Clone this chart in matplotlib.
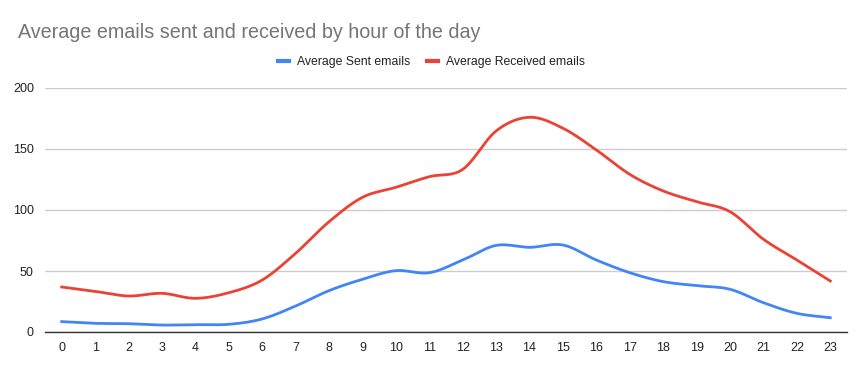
import numpy as np
import matplotlib
matplotlib.use("Agg")
import matplotlib.pyplot as plt

plt.rcParams['font.family'] = ['Liberation Sans', 'DejaVu Sans']

hours = list(range(24))
sent = [8.5, 7.1, 6.8, 5.7, 6.0, 6.3, 10.7, 21.3, 33.9, 43.2, 50.3, 48.6,
        59.0, 71.0, 69.4, 71.3, 59.0, 48.6, 41.3, 38.0, 35.0, 24.0, 15.3, 11.7]
received = [36.9, 33.3, 29.5, 31.7, 27.6, 32.2, 42.6, 64.5, 90.4, 110.4, 118.6, 127.3,
            133.3, 164.8, 176.0, 167.0, 149.2, 129.2, 115.6, 106.8, 98.6, 76.0, 59.0, 41.8]
series_names = ['Average Sent emails', 'Average Received emails']
colors = ['#4285f4', '#ea4335']
yticks = [0, 50, 100, 150, 200]


def smooth(x, y, n=20):
    # catmull-rom spline through the points, like the sheets "smooth" line
    x = np.asarray(x, float)
    y = np.asarray(y, float)
    px = np.concatenate([[2 * x[0] - x[1]], x, [2 * x[-1] - x[-2]]])
    py = np.concatenate([[2 * y[0] - y[1]], y, [2 * y[-1] - y[-2]]])
    xs, ys = [], []
    t = np.linspace(0, 1, n, endpoint=False)
    for i in range(1, len(px) - 2):
        for p, out in ((px, xs), (py, ys)):
            p0, p1, p2, p3 = p[i - 1], p[i], p[i + 1], p[i + 2]
            out.extend(0.5 * (2 * p1 + (-p0 + p2) * t
                              + (2 * p0 - 5 * p1 + 4 * p2 - p3) * t ** 2
                              + (-p0 + 3 * p1 - 3 * p2 + p3) * t ** 3))
    xs.append(x[-1])
    ys.append(y[-1])
    return np.array(xs), np.array(ys)


fig = plt.figure(figsize=(8.65, 3.71), dpi=100)
ax = fig.add_axes([45 / 865, 39 / 371, 802 / 865, 244 / 371])

for vals, name, c in zip([sent, received], series_names, colors):
    sx, sy = smooth(hours, vals)
    ax.plot(sx, sy, color=c, lw=2, label=name)

ax.set_xlim(-0.5, 23.5)
ax.set_ylim(0, 200)
ax.set_yticks(yticks)
ax.set_xticks(hours)
ax.tick_params(length=0, labelsize=9, colors='#222222')
ax.tick_params(axis='y', pad=8)
ax.tick_params(axis='x', pad=7)
ax.grid(axis='y', color='#cccccc', lw=1)
ax.set_axisbelow(True)
for s in ['top', 'right', 'left']:
    ax.spines[s].set_visible(False)
ax.spines['bottom'].set_color('#333333')
ax.spines['bottom'].set_linewidth(1)
ax.spines['bottom'].set_zorder(3)

fig.text(18 / 865, 1 - 32 / 371, 'Average emails sent and received by hour of the day',
         fontsize=14.2, color='#757575', va='center', ha='left')
leg = fig.legend(loc='center', bbox_to_anchor=(431.5 / 865, 1 - 62 / 371), ncol=2,
                 frameon=False, fontsize=8.8, handlelength=0.9, handletextpad=0.65,
                 columnspacing=1.3, labelcolor='#222222')
for h in leg.get_lines():
    h.set_linewidth(3)

fig.savefig('out.png', dpi=100)
